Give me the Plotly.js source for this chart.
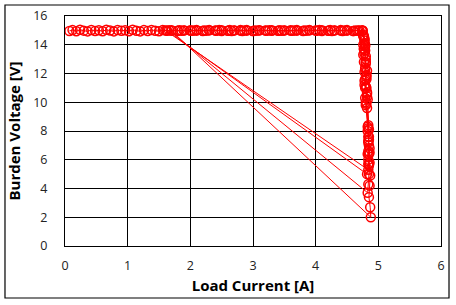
<!DOCTYPE html>
<html>
<head>
<meta charset="utf-8">
<script src="https://cdn.plot.ly/plotly-3.0.1.min.js"></script>
<style>html,body{margin:0;padding:0;background:#fff;}#chart{width:456px;height:305px;}</style>
</head>
<body>
<div id="chart"></div>
<script>
// Sweep 1: full current ramp at ~15 V, then collapse to ~5.3 V
const sweep1Current = [0.07,0.12,0.18,0.24,0.30,0.36,0.42,0.48,0.54,0.60,0.66,0.72,0.78,0.84,0.90,0.96,1.02,1.08,1.14,1.20,1.26,1.32,1.38,1.44,1.50,1.56,1.62,1.70,1.80,1.90,2.00,2.10,2.20,2.30,2.40,2.50,2.60,2.70,2.80,2.90,3.00,3.10,3.20,3.30,3.40,3.50,3.60,3.70,3.80,3.90,4.00,4.10,4.20,4.30,4.40,4.50,4.60,4.68,4.74,
  4.76,4.78,4.76,4.79,4.80,4.77,4.79,4.81,4.78,4.80,4.82,4.79,4.81,4.82,4.84,4.83,4.85,4.84,4.86,4.85,4.84,4.85,4.84];
const sweep1Voltage = [14.96,15.02,14.94,15.04,14.98,14.93,15.03,14.95,15.01,14.94,15.04,14.99,14.93,15.03,14.97,15.01,14.94,15.04,14.97,14.93,15.02,14.95,15.03,14.97,14.94,15.02,14.98,15.01,14.97,15.00,14.98,15.02,14.96,15.00,14.98,15.01,14.97,15.00,14.98,15.02,14.96,15.00,14.98,15.01,14.97,15.00,14.98,15.02,14.96,15.00,14.98,15.01,14.97,15.00,14.98,15.02,14.96,15.00,14.98,
  14.70,14.40,14.00,13.60,13.20,12.80,12.30,11.90,11.50,11.10,10.70,10.30,9.90,9.60,8.40,8.00,7.60,7.20,6.80,6.40,6.00,5.60,5.30];

// Sweep 2
const sweep2Current = [1.60,1.80,2.00,2.20,2.40,2.60,2.80,3.00,3.20,3.40,3.60,3.80,4.00,4.20,4.40,4.60,4.74,
  4.77,4.79,4.76,4.80,4.78,4.81,4.79,4.82,4.80,4.83,4.84,4.85,4.83,4.84,4.82];
const sweep2Voltage = [15.00,14.98,15.01,14.97,15.00,14.98,15.02,14.96,15.00,14.98,15.01,14.97,15.00,14.98,15.02,14.96,15.00,
  14.50,13.90,13.30,12.70,12.10,11.60,11.00,10.40,9.80,8.30,7.60,7.00,6.40,5.70,5.00];

// Sweep 3
const sweep3Current = [1.63,1.83,2.03,2.23,2.43,2.63,2.83,3.03,3.23,3.43,3.63,3.83,4.03,4.23,4.43,4.63,4.75,
  4.78,4.77,4.80,4.79,4.81,4.78,4.82,4.80,4.84,4.85,4.84,4.86,4.85,4.84,4.83];
const sweep3Voltage = [14.98,15.01,14.97,15.00,14.98,15.02,14.96,15.00,14.98,15.01,14.97,15.00,14.98,15.02,14.96,15.00,14.98,
  14.30,13.70,13.00,12.40,11.80,11.20,10.60,10.00,8.20,7.40,6.60,5.80,5.00,4.30,3.70];

// Sweep 4
const sweep4Current = [1.66,1.86,2.06,2.26,2.46,2.66,2.86,3.06,3.26,3.46,3.66,3.86,4.06,4.26,4.46,4.66,4.75,
  4.77,4.79,4.78,4.80,4.82,4.79,4.81,4.83,4.85,4.84,4.86,4.85,4.87,4.86,4.85,4.87,4.88];
const sweep4Voltage = [15.01,14.97,15.00,14.98,15.02,14.96,15.00,14.98,15.01,14.97,15.00,14.98,15.02,14.96,15.00,14.98,15.00,
  14.60,14.00,13.40,12.80,12.20,11.60,11.00,10.20,8.10,7.30,6.50,5.70,4.90,4.20,3.40,2.70,2.00];

// Sweep 5
const sweep5Current = [1.70,1.90,2.10,2.30,2.50,2.70,2.90,3.10,3.30,3.50,3.70,3.90,4.10,4.30,4.50,4.70,4.76,4.78,4.77];
const sweep5Voltage = [14.97,15.00,14.98,15.02,14.96,15.00,14.98,15.01,14.97,15.00,14.98,15.02,14.96,15.00,14.98,15.00,14.60,14.10,13.70];

const loadCurrent = [].concat(sweep1Current, sweep2Current, sweep3Current, sweep4Current, sweep5Current);
const burdenVoltage = [].concat(sweep1Voltage, sweep2Voltage, sweep3Voltage, sweep4Voltage, sweep5Voltage);

const xTicks = [0,1,2,3,4,5,6];
const yTicks = [0,2,4,6,8,10,12,14,16];

const trace = {
  x: loadCurrent,
  y: burdenVoltage,
  type: 'scatter',
  mode: 'lines+markers',
  line: {color: '#ff0000', width: 1},
  marker: {symbol: 'circle-open', size: 9, color: '#ff0000', line: {width: 1.5, color: '#ff0000'}},
  hoverinfo: 'skip'
};

const tickFont = {family: 'Open Sans, DejaVu Sans, sans-serif', size: 12.5, color: '#222'};
const titleFont = {family: 'Open Sans, DejaVu Sans, sans-serif', size: 15, color: '#000', weight: 'bold'};

const layout = {
  width: 456, height: 305,
  margin: {l: 65, r: 15, t: 16, b: 59, pad: 0},
  paper_bgcolor: '#fff', plot_bgcolor: '#fff',
  showlegend: false,
  xaxis: {
    range: [0, 6], tickvals: xTicks, ticktext: xTicks.map(String),
    showgrid: true, gridcolor: '#000', gridwidth: 1,
    showline: true, linecolor: '#000', linewidth: 1, mirror: true,
    zeroline: false, ticks: '', ticklabelstandoff: 8,
    tickfont: tickFont,
    title: {text: 'Load Current [A]', font: titleFont, standoff: 7}
  },
  yaxis: {
    range: [0, 16], tickvals: yTicks, ticktext: yTicks.map(String),
    showgrid: true, gridcolor: '#000', gridwidth: 1,
    showline: true, linecolor: '#000', linewidth: 1, mirror: true,
    zeroline: false, ticks: '', ticklabelstandoff: 14,
    tickfont: tickFont,
    title: {text: 'Burden Voltage [V]', font: titleFont, standoff: 8}
  },
  shapes: [{
    type: 'rect', xref: 'paper', yref: 'paper',
    x0: -0.1596, x1: 1.0213, y0: -0.226, y1: 1.0478,
    line: {color: '#000', width: 1.2}, fillcolor: 'rgba(0,0,0,0)', layer: 'below'
  }]
};

Plotly.newPlot('chart', [trace], layout, {staticPlot: true, displayModeBar: false});
</script>
</body>
</html>
